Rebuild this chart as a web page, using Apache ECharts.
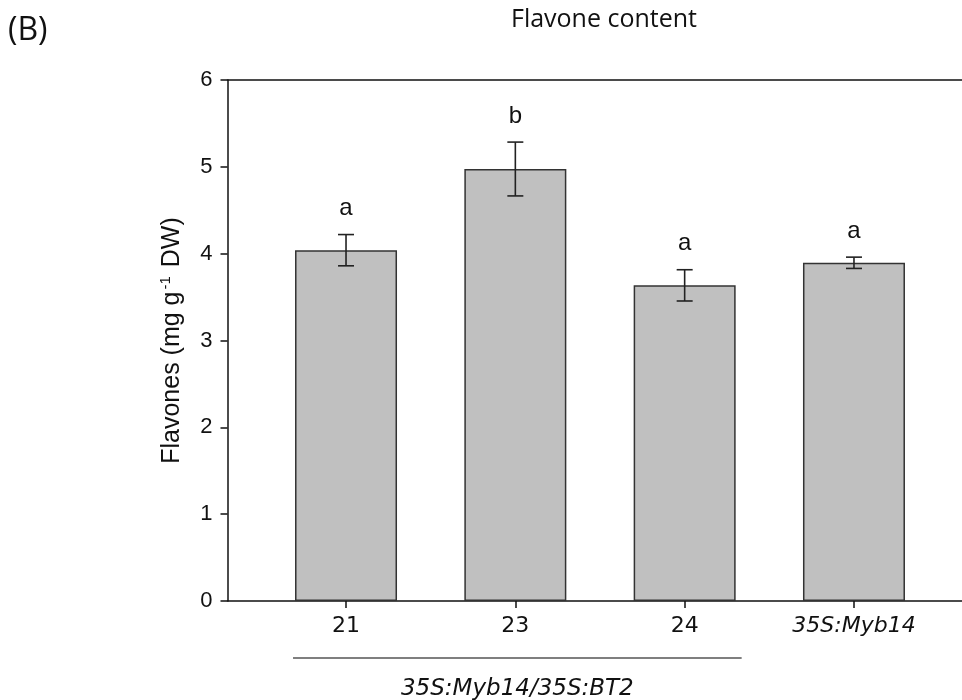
<!DOCTYPE html>
<html>
<head>
<meta charset="utf-8">
<script src="https://cdn.jsdelivr.net/npm/echarts@6/dist/echarts.min.js"></script>
<style>
  html, body { margin: 0; padding: 0; background: #fff; }
  #chart { width: 962px; height: 700px; }
</style>
</head>
<body>
<div id="chart"></div>
<script>
// Flavone content per line (mg g-1 DW), mean ± error
const categories = ['21', '23', '24', '35S:Myb14'];
const flavones = [4.04, 4.975, 3.635, 3.895];
const errors = [0.18, 0.31, 0.18, 0.065];
const letters = ['a', 'b', 'a', 'a'];
const yTicks = [0, 1, 2, 3, 4, 5, 6];
const groupLabel = '35S:Myb14/35S:BT2';

// Category positions on a numeric x scale (one unit per line)
const xMin = -0.7;
const xMax = 3.638;

const chart = echarts.init(document.getElementById('chart'));

const barData = flavones.map((v, i) => [i, v]);
const errData = flavones.map((v, i) => [i, v - errors[i], v + errors[i]]);

chart.setOption({
  animation: false,
  title: {
    text: 'Flavone content',
    left: 599,
    top: 2,
    textAlign: 'center',
    textStyle: { fontFamily: 'Open Sans', fontSize: 25, fontWeight: 'normal', color: '#111' }
  },
  grid: { left: 227.5, right: 0, top: 80, bottom: 99 },
  xAxis: [
    {
      type: 'value',
      min: xMin,
      max: xMax,
      splitLine: { show: false },
      axisLine: { show: true, onZero: false, lineStyle: { color: '#111', width: 1.5 } },
      axisTick: { show: true, customValues: [0, 1, 2, 3], length: 7, lineStyle: { color: '#111', width: 1.5 } },
      axisLabel: {
        customValues: [0, 1, 2, 3],
        margin: 14,
        fontFamily: 'DejaVu Sans',
        fontSize: 22,
        color: '#111',
        formatter: v => {
          const name = categories[Math.round(v)];
          return name.indexOf(':') >= 0 ? '{it|' + name + '}' : name;
        },
        rich: { it: { fontFamily: 'DejaVu Sans', fontStyle: 'italic', fontSize: 22, color: '#111' } }
      }
    },
    {
      // plain frame line along the top of the plot
      type: 'value',
      position: 'top',
      min: xMin,
      max: xMax,
      splitLine: { show: false },
      axisLine: { show: true, onZero: false, lineStyle: { color: '#111', width: 1.5 } },
      axisTick: { show: false },
      axisLabel: { show: false }
    }
  ],
  yAxis: {
    type: 'value',
    min: yTicks[0],
    max: yTicks[yTicks.length - 1],
    interval: 1,
    splitLine: { show: false },
    axisLine: { show: true, onZero: false, lineStyle: { color: '#111', width: 1.5 } },
    axisTick: { show: true, length: 7, lineStyle: { color: '#111', width: 1.5 } },
    axisLabel: { margin: 15, fontFamily: 'Liberation Sans', fontSize: 22, color: '#111' },
    name: '{t|Flavones (mg g}{sup|-1}{t| DW)}',
    nameLocation: 'middle',
    nameRotate: 90,
    nameGap: 42,
    nameTextStyle: {
      rich: {
        t: { fontFamily: 'Liberation Sans', fontSize: 25, color: '#111' },
        sup: { fontFamily: 'Liberation Sans', fontSize: 15, color: '#111', verticalAlign: 'top', padding: [0, 2, 12, 2] }
      }
    }
  },
  series: [
    {
      type: 'bar',
      xAxisIndex: 0,
      data: barData,
      barWidth: 102,
      itemStyle: { color: '#c0c0c0', borderColor: '#333', borderWidth: 1.5 },
      z: 2
    },
    {
      type: 'custom',
      xAxisIndex: 0,
      data: errData,
      z: 3,
      renderItem: (params, api) => {
        const x = api.value(0);
        const lo = api.coord([x, api.value(1)]);
        const hi = api.coord([x, api.value(2)]);
        const cap = 8;
        const style = { stroke: '#222', lineWidth: 1.6 };
        return {
          type: 'group',
          children: [
            { type: 'line', shape: { x1: lo[0], y1: lo[1], x2: hi[0], y2: hi[1] }, style },
            { type: 'line', shape: { x1: hi[0] - cap, y1: hi[1], x2: hi[0] + cap, y2: hi[1] }, style },
            { type: 'line', shape: { x1: lo[0] - cap, y1: lo[1], x2: lo[0] + cap, y2: lo[1] }, style },
            {
              type: 'text',
              style: {
                text: letters[params.dataIndex],
                x: hi[0], y: hi[1] - 14,
                textAlign: 'center', textVerticalAlign: 'bottom',
                fontFamily: 'Liberation Sans', fontSize: 24, fill: '#111'
              }
            }
          ]
        };
      }
    }
  ]
});

// Bracket line and group label beneath the three transgenic lines
const p0 = chart.convertToPixel({ xAxisIndex: 0 }, 0);
const p2 = chart.convertToPixel({ xAxisIndex: 0 }, 2);
const x1 = p0 - 53, x2 = p2 + 57;
chart.setOption({
  graphic: [
    { type: 'line', shape: { x1: x1, y1: 658, x2: x2, y2: 658 }, style: { stroke: '#555', lineWidth: 1.5 } },
    {
      type: 'text', x: (x1 + x2) / 2, y: 689,
      style: {
        text: groupLabel, textAlign: 'center', textVerticalAlign: 'middle',
        fontFamily: 'DejaVu Sans', fontStyle: 'italic', fontSize: 23, fill: '#111'
      }
    },
    {
      type: 'text', x: 8, y: 31,
      style: { text: '(B)', textVerticalAlign: 'middle', fontFamily: 'Open Sans', fontSize: 32, fill: '#111' }
    }
  ]
});
</script>
</body>
</html>
